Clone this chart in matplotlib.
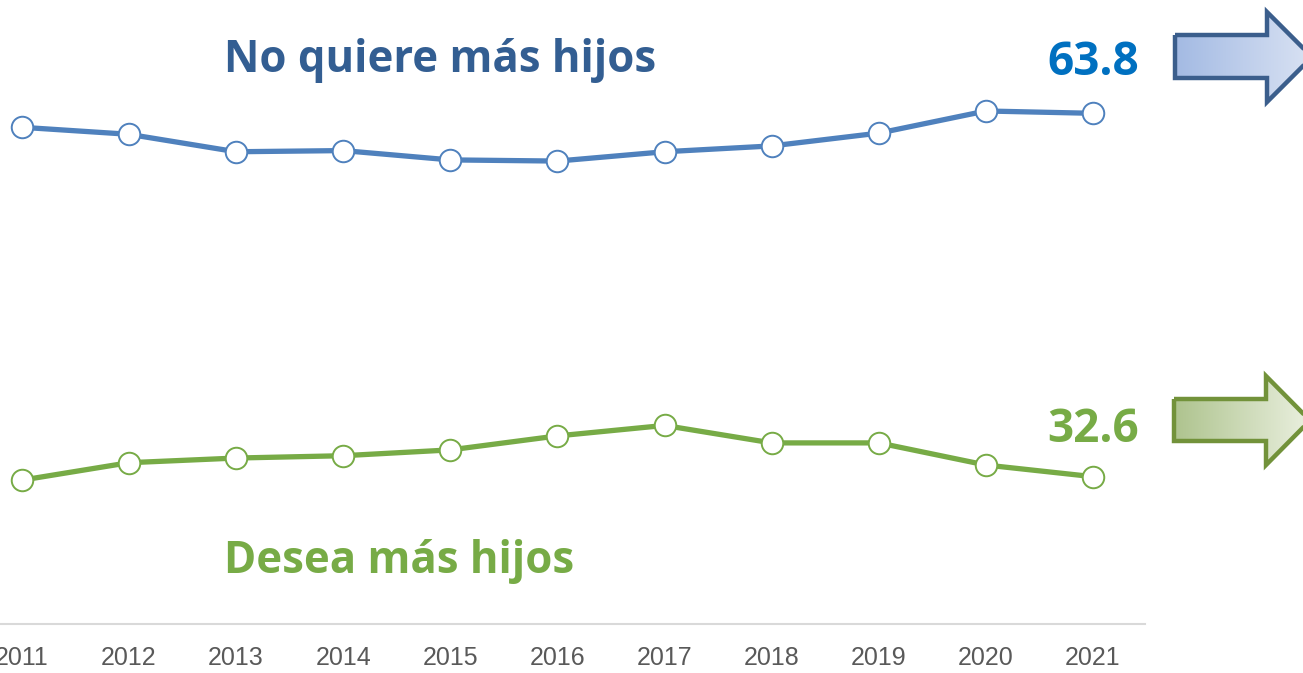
import numpy as np
import matplotlib
matplotlib.use('Agg')
import matplotlib.pyplot as plt
from matplotlib.patches import Polygon

#data
years = [2011, 2012, 2013, 2014, 2015, 2016, 2017, 2018, 2019, 2020, 2021]
no_quiere = [62.6, 62.0, 60.5, 60.6, 59.8, 59.7, 60.5, 61.0, 62.1, 64.0, 63.8]
desea = [32.3, 33.8, 34.2, 34.4, 34.9, 36.1, 37.0, 35.5, 35.5, 33.6, 32.6]
label_no = 'No quiere más hijos'
label_si = 'Desea más hijos'

blue = '#4F81BD'
green = '#77AB46'
W, H = 1303, 673
big_font = ['Open Sans', 'DejaVu Sans']

fig = plt.figure(figsize=(W / 100, H / 100), dpi=100)
ax = fig.add_axes([0, (H - 624) / H, 1145 / W, 624 / H])

ax.plot(years, no_quiere, color=blue, lw=3.8, marker='o', ms=15.5,
        mfc='white', mec=blue, mew=1.4, zorder=3)
ax.plot(years, desea, color=green, lw=3.8, marker='o', ms=15.5,
        mfc='white', mec=green, mew=1.4, zorder=3)

ax.set_xlim(2010.797, 2021.485)
ax.set_ylim(19.95, 73.53)
ax.set_xticks(years)
ax.set_xticklabels([str(y) for y in years], fontsize=18, color='#595959',
                   family=['Liberation Sans', 'DejaVu Sans'])
ax.tick_params(axis='x', length=0, pad=16)
ax.set_yticks([])
for s in ['top', 'right', 'left']:
    ax.spines[s].set_visible(False)
ax.spines['bottom'].set_color('#D9D9D9')
ax.spines['bottom'].set_linewidth(1.5)
ax.patch.set_alpha(0)

#end values taken from the series
ax.annotate(f'{no_quiere[-1]:.1f}', (years[-1], no_quiere[-1]), xytext=(0, 38),
            textcoords='offset pixels', ha='center', va='baseline',
            fontsize=33, fontweight='bold', color='#0070C0', family=big_font)
ax.annotate(f'{desea[-1]:.1f}', (years[-1], desea[-1]), xytext=(0, 35),
            textcoords='offset pixels', ha='center', va='baseline',
            fontsize=33, fontweight='bold', color=green, family=big_font)

#overlay in pixel coords for labels and arrows
ov = fig.add_axes([0, 0, 1, 1])
ov.set_xlim(0, W)
ov.set_ylim(H, 0)
ov.axis('off')
ov.patch.set_alpha(0)

ov.text(224, 72, label_no, fontsize=31.5, fontweight='bold', color='#335E92',
        family=big_font, va='baseline')
ov.text(224, 573, label_si, fontsize=31.5, fontweight='bold', color=green,
        family=big_font, va='baseline')


def block_arrow(x0, yt, yb, xh, ht, hb, tip, c_left, c_right, edge):
    yc = (ht + hb) / 2
    pts = [(x0, yt), (xh, yt), (xh, ht), (tip, yc), (xh, hb), (xh, yb), (x0, yb)]
    poly = Polygon(pts, closed=True, fc='none', ec=edge, lw=3.2, zorder=5,
                   joinstyle='miter')
    ov.add_patch(poly)
    grad = np.linspace(0, 1, 256)[None, :, None]
    c1 = np.array(matplotlib.colors.to_rgb(c_left))
    c2 = np.array(matplotlib.colors.to_rgb(c_right))
    img = c1 + (c2 - c1) * grad
    im = ov.imshow(img, extent=(x0, tip, hb, ht), aspect='auto', zorder=4)
    im.set_clip_path(poly)


block_arrow(1175, 35, 78, 1267, 12, 102, 1312, '#A3BAE3', '#D9E2F3', '#3B5E8C')
block_arrow(1174, 399, 441, 1266, 376, 465, 1310, '#AEC38E', '#EAF0DF', '#72923A')
ov.set_xlim(0, W)
ov.set_ylim(H, 0)

fig.savefig('out.png', dpi=100)
